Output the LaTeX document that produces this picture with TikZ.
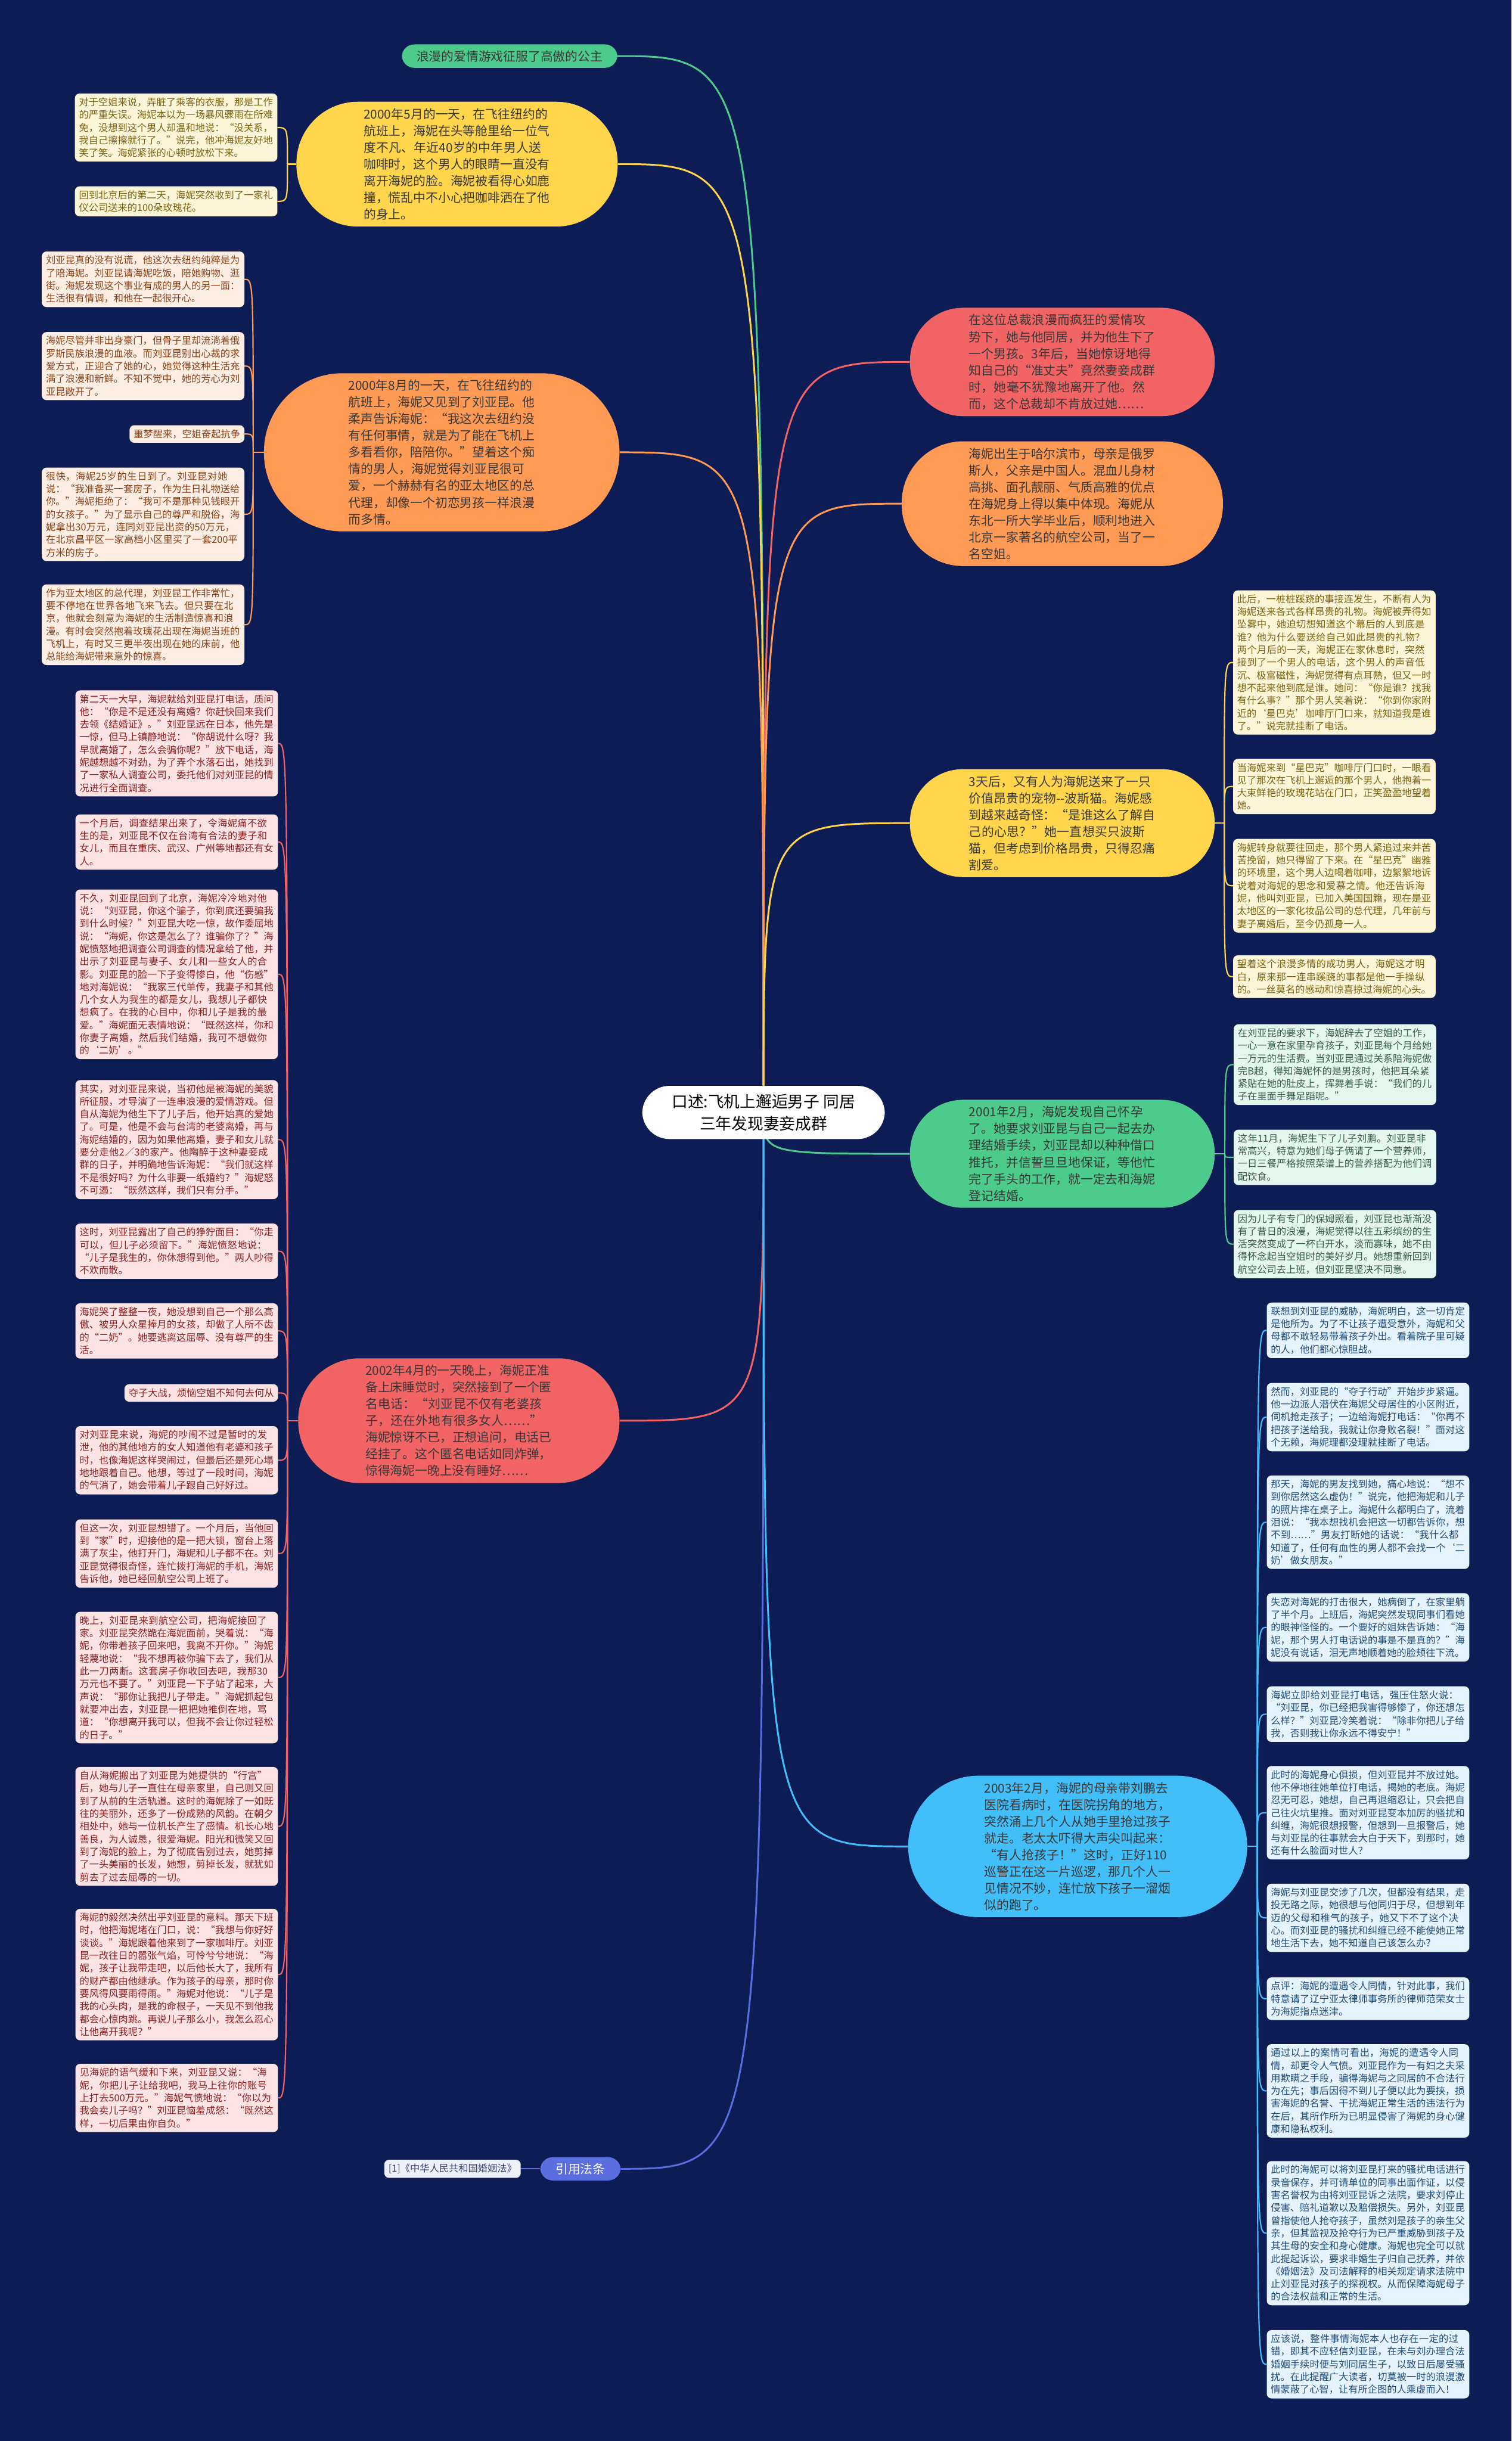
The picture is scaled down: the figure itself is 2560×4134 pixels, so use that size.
\documentclass[tikz,border=0pt]{standalone}
\usepackage{fontspec}
\setmainfont{Noto Sans CJK SC}
\XeTeXlinebreaklocale "zh"
\XeTeXlinebreakskip=0pt plus 1pt
\setlength{\parindent}{0pt}

\definecolor{bg}{HTML}{0E1C55}
\definecolor{cgrn}{HTML}{4DCB8C}
\definecolor{cyel}{HTML}{FFD54C}
\definecolor{corg}{HTML}{FF9A55}
\definecolor{cred}{HTML}{F26464}
\definecolor{cblu}{HTML}{42BEF8}
\definecolor{claw}{HTML}{5A6EDF}
\definecolor{fgrn}{HTML}{E5F6EE}
\definecolor{fyel}{HTML}{FDF5D8}
\definecolor{forg}{HTML}{FDEEE4}
\definecolor{fred}{HTML}{FDE4E4}
\definecolor{fblu}{HTML}{E4F3FC}
\definecolor{flaw}{HTML}{EEF0FB}
\definecolor{tgrn}{HTML}{365C4A}
\definecolor{tyel}{HTML}{7B6213}
\definecolor{torg}{HTML}{8A4016}
\definecolor{tred}{HTML}{8C2020}
\definecolor{tblu}{HTML}{1F4C78}
\definecolor{tlaw}{HTML}{3A3F6B}
\definecolor{tmain}{HTML}{383838}

\newcommand{\leaffont}{\fontsize{16.4pt}{21.5pt}\selectfont}
\newcommand{\topicfont}{\fontsize{21pt}{28.3pt}\selectfont}
\newcommand{\rootfont}{\fontsize{27pt}{37pt}\selectfont}

\pgfdeclarelayer{canvas}
\pgfdeclarelayer{back}
\pgfsetlayers{canvas,back,main}

\begin{document}
\begin{tikzpicture}[x=1pt,y=-1pt,
  topic/.style={rounded corners=#1,inner xsep=#1+10pt,inner ysep=11pt,text width=316pt,align=left,font=\topicfont,text=tmain},
  leaf/.style={rounded corners=8pt,inner sep=7pt,text width=329pt,align=left,font=\leaffont},
  tag/.style={rounded corners=8pt,inner sep=7pt,font=\leaffont},
  link/.style={line width=3pt},
  twig/.style={line width=2.2pt}]

  \begin{pgfonlayer}{canvas}
    \fill[bg] (0,0) rectangle (2560,4134);
  \end{pgfonlayer}

  \node[fill=white,rounded corners=46pt,font=\rootfont,align=center,inner xsep=50pt,inner ysep=14pt] (root) at (1293,1884) {口述:飞机上邂逅男子 同居\\三年发现妻妾成群};

  \node[fill=cgrn,rounded corners=21pt,font=\topicfont,text=tmain,inner xsep=25pt,inner ysep=10pt] (romance) at (863,95) {浪漫的爱情游戏征服了高傲的公主};

  \node[topic=104pt,fill=cyel] (may) at (774,278) {2000年5月的一天，在飞往纽约的航班上，海妮在头等舱里给一位气度不凡、年近40岁的中年男人送咖啡时，这个男人的眼睛一直没有离开海妮的脸。海妮被看得心如鹿撞，慌乱中不小心把咖啡洒在了他的身上。};
  \node[leaf,fill=fyel,text=tyel,anchor=east] (may1) at (470,216) {对于空姐来说，弄脏了乘客的衣服，那是工作的严重失误。海妮本以为一场暴风骤雨在所难免，没想到这个男人却温和地说：“没关系，我自己擦擦就行了。”说完，他冲海妮友好地笑了笑。海妮紧张的心顿时放松下来。};
  \node[leaf,fill=fyel,text=tyel,anchor=east] (may2) at (470,341) {回到北京后的第二天，海妮突然收到了一家礼仪公司送来的100朵玫瑰花。};

  \node[topic=133pt,fill=corg] (aug) at (748,766) {2000年8月的一天，在飞往纽约的航班上，海妮又见到了刘亚昆。他柔声告诉海妮：“我这次去纽约没有任何事情，就是为了能在飞机上多看看你，陪陪你。”望着这个痴情的男人，海妮觉得刘亚昆很可爱，一个赫赫有名的亚太地区的总代理，却像一个初恋男孩一样浪漫而多情。};
  \node[leaf,fill=forg,text=torg,anchor=east] (aug1) at (414,473) {刘亚昆真的没有说谎，他这次去纽约纯粹是为了陪海妮。刘亚昆请海妮吃饭，陪她购物、逛街。海妮发现这个事业有成的男人的另一面：生活很有情调，和他在一起很开心。};
  \node[leaf,fill=forg,text=torg,anchor=east] (aug2) at (414,620) {海妮尽管并非出身豪门，但骨子里却流淌着俄罗斯民族浪漫的血液。而刘亚昆别出心裁的求爱方式，正迎合了她的心，她觉得这种生活充满了浪漫和新鲜。不知不觉中，她的芳心为刘亚昆敞开了。};
  \node[tag,fill=forg,text=torg,anchor=east] (aug3) at (414,735) {噩梦醒来，空姐奋起抗争};
  \node[leaf,fill=forg,text=torg,anchor=east] (aug4) at (414,871) {很快，海妮25岁的生日到了。刘亚昆对她说：“我准备买一套房子，作为生日礼物送给你。”海妮拒绝了：“我可不是那种见钱眼开的女孩子。”为了显示自己的尊严和脱俗，海妮拿出30万元，连同刘亚昆出资的50万元，在北京昌平区一家高档小区里买了一套200平方米的房子。};
  \node[leaf,fill=forg,text=torg,anchor=east] (aug5) at (414,1058) {作为亚太地区的总代理，刘亚昆工作非常忙，要不停地在世界各地飞来飞去。但只要在北京，他就会刻意为海妮的生活制造惊喜和浪漫。有时会突然抱着玫瑰花出现在海妮当班的飞机上，有时又三更半夜出现在她的床前，他总能给海妮带来意外的惊喜。};

  \node[topic=104pt,fill=cred] (call) at (777,2406) {2002年4月的一天晚上，海妮正准备上床睡觉时，突然接到了一个匿名电话：“刘亚昆不仅有老婆孩子，还在外地有很多女人……”海妮惊讶不已，正想追问，电话已经挂了。这个匿名电话如同炸弹，惊得海妮一晚上没有睡好……};
  \node[leaf,fill=fred,text=tred,anchor=east] (call1) at (471,1259) {第二天一大早，海妮就给刘亚昆打电话，质问他：“你是不是还没有离婚？你赶快回来我们去领《结婚证》。”刘亚昆远在日本，他先是一惊，但马上镇静地说：“你胡说什么呀？我早就离婚了，怎么会骗你呢？”放下电话，海妮越想越不对劲，为了弄个水落石出，她找到了一家私人调查公司，委托他们对刘亚昆的情况进行全面调查。};
  \node[leaf,fill=fred,text=tred,anchor=east] (call2) at (471,1426) {一个月后，调查结果出来了，令海妮痛不欲生的是，刘亚昆不仅在台湾有合法的妻子和女儿，而且在重庆、武汉、广州等地都还有女人。};
  \node[leaf,fill=fred,text=tred,anchor=east] (call3) at (471,1650) {不久，刘亚昆回到了北京，海妮冷冷地对他说：“刘亚昆，你这个骗子，你到底还要骗我到什么时候？”刘亚昆大吃一惊，故作委屈地说：“海妮，你这是怎么了？谁骗你了？”海妮愤怒地把调查公司调查的情况拿给了他，并出示了刘亚昆与妻子、女儿和一些女人的合影。刘亚昆的脸一下子变得惨白，他“伤感”地对海妮说：“我家三代单传，我妻子和其他几个女人为我生的都是女儿，我想儿子都快想疯了。在我的心目中，你和儿子是我的最爱。”海妮面无表情地说：“既然这样，你和你妻子离婚，然后我们结婚，我可不想做你的‘二奶’。”};
  \node[leaf,fill=fred,text=tred,anchor=east] (call4) at (471,1930) {其实，对刘亚昆来说，当初他是被海妮的美貌所征服，才导演了一连串浪漫的爱情游戏。但自从海妮为他生下了儿子后，他开始真的爱她了。可是，他是不会与台湾的老婆离婚，再与海妮结婚的，因为如果他离婚，妻子和女儿就要分走他2／3的家产。他陶醉于这种妻妾成群的日子，并明确地告诉海妮：“我们就这样不是很好吗？为什么非要一纸婚约？”海妮怒不可遏：“既然这样，我们只有分手。”};
  \node[leaf,fill=fred,text=tred,anchor=east] (call5) at (471,2119) {这时，刘亚昆露出了自己的狰狞面目：“你走可以，但儿子必须留下。”海妮愤怒地说：“儿子是我生的，你休想得到他。”两人吵得不欢而散。};
  \node[leaf,fill=fred,text=tred,anchor=east] (call6) at (471,2254) {海妮哭了整整一夜，她没想到自己一个那么高傲、被男人众星捧月的女孩，却做了人所不齿的“二奶”。她要逃离这屈辱、没有尊严的生活。};
  \node[tag,fill=fred,text=tred,anchor=east] (call7) at (471,2359) {夺子大战，烦恼空姐不知何去何从};
  \node[leaf,fill=fred,text=tred,anchor=east] (call8) at (471,2473) {对刘亚昆来说，海妮的吵闹不过是暂时的发泄，他的其他地方的女人知道他有老婆和孩子时，也像海妮这样哭闹过，但最后还是死心塌地地跟着自己。他想，等过了一段时间，海妮的气消了，她会带着儿子跟自己好好过。};
  \node[leaf,fill=fred,text=tred,anchor=east] (call9) at (471,2631) {但这一次，刘亚昆想错了。一个月后，当他回到“家”时，迎接他的是一把大锁，窗台上落满了灰尘，他打开门，海妮和儿子都不在。刘亚昆觉得很奇怪，连忙拨打海妮的手机，海妮告诉他，她已经回航空公司上班了。};
  \node[leaf,fill=fred,text=tred,anchor=east] (call10) at (471,2841) {晚上，刘亚昆来到航空公司，把海妮接回了家。刘亚昆突然跪在海妮面前，哭着说：“海妮，你带着孩子回来吧，我离不开你。”海妮轻蔑地说：“我不想再被你骗下去了，我们从此一刀两断。这套房子你收回去吧，我那30万元也不要了。”刘亚昆一下子站了起来，大声说：“那你让我把儿子带走。”海妮抓起包就要冲出去，刘亚昆一把把她推倒在地，骂道：“你想离开我可以，但我不会让你过轻松的日子。”};
  \node[leaf,fill=fred,text=tred,anchor=east] (call11) at (471,3093) {自从海妮搬出了刘亚昆为她提供的“行宫”后，她与儿子一直住在母亲家里，自己则又回到了从前的生活轨道。这时的海妮除了一如既往的美丽外，还多了一份成熟的风韵。在朝夕相处中，她与一位机长产生了感情。机长心地善良，为人诚恳，很爱海妮。阳光和微笑又回到了海妮的脸上，为了彻底告别过去，她剪掉了一头美丽的长发，她想，剪掉长发，就犹如剪去了过去屈辱的一切。};
  \node[leaf,fill=fred,text=tred,anchor=east] (call12) at (471,3344) {海妮的毅然决然出乎刘亚昆的意料。那天下班时，他把海妮堵在门口，说：“我想与你好好谈谈。”海妮跟着他来到了一家咖啡厅。刘亚昆一改往日的嚣张气焰，可怜兮兮地说：“海妮，孩子让我带走吧，以后他长大了，我所有的财产都由他继承。作为孩子的母亲，那时你要风得风要雨得雨。”海妮对他说：“儿子是我的心头肉，是我的命根子，一天见不到他我都会心惊肉跳。再说儿子那么小，我怎么忍心让他离开我呢？”};
  \node[leaf,fill=fred,text=tred,anchor=east] (call13) at (471,3553) {见海妮的语气缓和下来，刘亚昆又说：“海妮，你把儿子让给我吧，我马上往你的账号上打去500万元。”海妮气愤地说：“你以为我会卖儿子吗？”刘亚昆恼羞成怒：“既然这样，一切后果由你自负。”};

  \node[fill=claw,rounded corners=21pt,text=white,font=\topicfont,inner xsep=26pt,inner ysep=10pt] (law) at (983,3673) {引用法条};
  \node[tag,fill=flaw,text=tlaw,anchor=east] (law1) at (882,3673) {[1]《中华人民共和国婚姻法》};

  \node[topic=90pt,fill=cred] (siege) at (1799,613) {在这位总裁浪漫而疯狂的爱情攻势下，她与他同居，并为他生下了一个男孩。3年后，当她惊讶地得知自己的“准丈夫”竟然妻妾成群时，她毫不犹豫地离开了他。然而，这个总裁却不肯放过她……};
  \node[topic=104pt,fill=corg] (born) at (1799,853) {海妮出生于哈尔滨市，母亲是俄罗斯人，父亲是中国人。混血儿身材高挑、面孔靓丽、气质高雅的优点在海妮身上得以集中体现。海妮从东北一所大学毕业后，顺利地进入北京一家著名的航空公司，当了一名空姐。};

  \node[topic=90pt,fill=cyel] (cat) at (1799,1394) {3天后，又有人为海妮送来了一只价值昂贵的宠物-{}-波斯猫。海妮感到越来越奇怪：“是谁这么了解自己的心思？”她一直想买只波斯猫，但考虑到价格昂贵，只得忍痛割爱。};
  \node[leaf,fill=fyel,text=tyel,anchor=west] (cat1) at (2088,1122) {此后，一桩桩蹊跷的事接连发生，不断有人为海妮送来各式各样昂贵的礼物。海妮被弄得如坠雾中，她迫切想知道这个幕后的人到底是谁？他为什么要送给自己如此昂贵的礼物？两个月后的一天，海妮正在家休息时，突然接到了一个男人的电话，这个男人的声音低沉、极富磁性，海妮觉得有点耳熟，但又一时想不起来他到底是谁。她问：“你是谁？找我有什么事？”那个男人笑着说：“你到你家附近的‘星巴克’咖啡厅门口来，就知道我是谁了。”说完就挂断了电话。};
  \node[leaf,fill=fyel,text=tyel,anchor=west] (cat2) at (2088,1332) {当海妮来到“星巴克”咖啡厅门口时，一眼看见了那次在飞机上邂逅的那个男人，他抱着一大束鲜艳的玫瑰花站在门口，正笑盈盈地望着她。};
  \node[leaf,fill=fyel,text=tyel,anchor=west] (cat3) at (2088,1500) {海妮转身就要往回走，那个男人紧追过来并苦苦挽留，她只得留了下来。在“星巴克”幽雅的环境里，这个男人边喝着咖啡，边絮絮地诉说着对海妮的思念和爱慕之情。他还告诉海妮，他叫刘亚昆，已加入美国国籍，现在是亚太地区的一家化妆品公司的总代理，几年前与妻子离婚后，至今仍孤身一人。};
  \node[leaf,fill=fyel,text=tyel,anchor=west] (cat4) at (2088,1654) {望着这个浪漫多情的成功男人，海妮这才明白，原来那一连串蹊跷的事都是他一手操纵的。一丝莫名的感动和惊喜掠过海妮的心头。};

  \node[topic=90pt,fill=cgrn] (preg) at (1799,1954) {2001年2月，海妮发现自己怀孕了。她要求刘亚昆与自己一起去办理结婚手续，刘亚昆却以种种借口推托，并信誓旦旦地保证，等他忙完了手头的工作，就一定去和海妮登记结婚。};
  \node[leaf,fill=fgrn,text=tgrn,anchor=west] (preg1) at (2089,1803) {在刘亚昆的要求下，海妮辞去了空姐的工作，一心一意在家里孕育孩子，刘亚昆每个月给她一万元的生活费。当刘亚昆通过关系陪海妮做完B超，得知海妮怀的是男孩时，他把耳朵紧紧贴在她的肚皮上，挥舞着手说：“我们的儿子在里面手舞足蹈呢。”};
  \node[leaf,fill=fgrn,text=tgrn,anchor=west] (preg2) at (2089,1960) {这年11月，海妮生下了儿子刘鹏。刘亚昆非常高兴，特意为她们母子俩请了一个营养师，一日三餐严格按照菜谱上的营养搭配为他们调配饮食。};
  \node[leaf,fill=fgrn,text=tgrn,anchor=west] (preg3) at (2089,2107) {因为儿子有专门的保姆照看，刘亚昆也渐渐没有了昔日的浪漫，海妮觉得以往五彩缤纷的生活突然变成了一杯白开水，淡而寡味，她不由得怀念起当空姐时的美好岁月。她想重新回到航空公司去上班，但刘亚昆坚决不同意。};

  \node[topic=119pt,fill=cblu] (grab) at (1825,3127) {2003年2月，海妮的母亲带刘鹏去医院看病时，在医院拐角的地方，突然涌上几个人从她手里抢过孩子就走。老太太吓得大声尖叫起来：“有人抢孩子！”这时，正好110巡警正在这一片巡逻，那几个人一见情况不妙，连忙放下孩子一溜烟似的跑了。};
  \node[leaf,fill=fblu,text=tblu,anchor=west] (grab1) at (2145,2253) {联想到刘亚昆的威胁，海妮明白，这一切肯定是他所为。为了不让孩子遭受意外，海妮和父母都不敢轻易带着孩子外出。看着院子里可疑的人，他们都心惊胆战。};
  \node[leaf,fill=fblu,text=tblu,anchor=west] (grab2) at (2145,2400) {然而，刘亚昆的“夺子行动”开始步步紧逼。他一边派人潜伏在海妮父母居住的小区附近，伺机抢走孩子；一边给海妮打电话：“你再不把孩子送给我，我就让你身败名裂！”面对这个无赖，海妮理都没理就挂断了电话。};
  \node[leaf,fill=fblu,text=tblu,anchor=west] (grab3) at (2145,2578) {那天，海妮的男友找到她，痛心地说：“想不到你居然这么虚伪！”说完，他把海妮和儿子的照片摔在桌子上。海妮什么都明白了，流着泪说：“我本想找机会把这一切都告诉你，想不到……”男友打断她的话说：“我什么都知道了，任何有血性的男人都不会找一个‘二奶’做女朋友。”};
  \node[leaf,fill=fblu,text=tblu,anchor=west] (grab4) at (2145,2756) {失恋对海妮的打击很大，她病倒了，在家里躺了半个月。上班后，海妮突然发现同事们看她的眼神怪怪的。一个要好的姐妹告诉她：“海妮，那个男人打电话说的事是不是真的？”海妮没有说话，泪无声地顺着她的脸颊往下流。};
  \node[leaf,fill=fblu,text=tblu,anchor=west] (grab5) at (2145,2903) {海妮立即给刘亚昆打电话，强压住怒火说：“刘亚昆，你已经把我害得够惨了，你还想怎么样？”刘亚昆冷笑着说：“除非你把儿子给我，否则我让你永远不得安宁！”};
  \node[leaf,fill=fblu,text=tblu,anchor=west] (grab6) at (2145,3070) {此时的海妮身心俱损，但刘亚昆并不放过她。他不停地往她单位打电话，揭她的老底。海妮忍无可忍，她想，自己再退缩忍让，只会把自己往火坑里推。面对刘亚昆变本加厉的骚扰和纠缠，海妮很想报警，但想到一旦报警后，她与刘亚昆的往事就会大白于天下，到那时，她还有什么脸面对世人？};
  \node[leaf,fill=fblu,text=tblu,anchor=west] (grab7) at (2145,3248) {海妮与刘亚昆交涉了几次，但都没有结果，走投无路之际，她很想与他同归于尽，但想到年迈的父母和稚气的孩子，她又下不了这个决心。而刘亚昆的骚扰和纠缠已经不能使她正常地生活下去，她不知道自己该怎么办？};
  \node[leaf,fill=fblu,text=tblu,anchor=west] (grab8) at (2145,3385) {点评：海妮的遭遇令人同情，针对此事，我们特意请了辽宁亚太律师事务所的律师范荣女士为海妮指点迷津。};
  \node[leaf,fill=fblu,text=tblu,anchor=west] (grab9) at (2145,3541) {通过以上的案情可看出，海妮的遭遇令人同情，却更令人气愤。刘亚昆作为一有妇之夫采用欺瞒之手段，骗得海妮与之同居的不合法行为在先；事后因得不到儿子便以此为要挟，损害海妮的名誉、干扰海妮正常生活的违法行为在后，其所作所为已明显侵害了海妮的身心健康和隐私权利。};
  \node[leaf,fill=fblu,text=tblu,anchor=west] (grab10) at (2145,3782) {此时的海妮可以将刘亚昆打来的骚扰电话进行录音保存，并可请单位的同事出面作证，以侵害名誉权为由将刘亚昆诉之法院，要求刘停止侵害、赔礼道歉以及赔偿损失。另外，刘亚昆曾指使他人抢夺孩子，虽然刘是孩子的亲生父亲，但其监视及抢夺行为已严重威胁到孩子及其生母的安全和身心健康。海妮也完全可以就此提起诉讼，要求非婚生子归自己抚养，并依《婚姻法》及司法解释的相关规定请求法院中止刘亚昆对孩子的探视权。从而保障海妮母子的合法权益和正常的生活。};
  \node[leaf,fill=fblu,text=tblu,anchor=west] (grab11) at (2145,4004) {应该说，整件事情海妮本人也存在一定的过错，即其不应轻信刘亚昆，在未与刘办理合法婚姻手续时便与刘同居生子，以致日后屡受骚扰。在此提醒广大读者，切莫被一时的浪漫激情蒙蔽了心智，让有所企图的人乘虚而入！};

  \begin{pgfonlayer}{back}
    \draw[link,cgrn] (root.center) .. controls (root.center |- romance.east) .. (romance.east);
    \draw[link,cyel] (root.center) .. controls (root.center |- may.east) .. (may.east);
    \draw[link,corg] (root.center) .. controls (root.center |- aug.east) .. (aug.east);
    \draw[link,cred] (root.center) .. controls (root.center |- call.east) .. (call.east);
    \draw[link,claw] (root.center) .. controls (root.center |- law.east) .. (law.east);
    \draw[link,cred] (root.center) .. controls (root.center |- siege.west) .. (siege.west);
    \draw[link,corg] (root.center) .. controls (root.center |- born.west) .. (born.west);
    \draw[link,cyel] (root.center) .. controls (root.center |- cat.west) .. (cat.west);
    \draw[link,cgrn] (root.center) .. controls (root.center |- preg.west) .. (preg.west);
    \draw[link,cblu] (root.center) .. controls (root.center |- grab.west) .. (grab.west);

    \draw[twig,cyel] (may.west) -- ++(-15,0) coordinate (mayj);
    \foreach \n in {may1,may2}
      \draw[twig,cyel] (mayj) .. controls (mayj |- \n.east) .. (\n.east);
    \draw[twig,corg] (aug.west) -- ++(-18,0) coordinate (augj);
    \foreach \n in {aug1,aug2,aug3,aug4,aug5}
      \draw[twig,corg] (augj) .. controls (augj |- \n.east) .. (\n.east);
    \draw[twig,cred] (call.west) -- ++(-18,0) coordinate (callj);
    \foreach \n in {call1,call2,call3,call4,call5,call6,call7,call8,call9,call10,call11,call12,call13}
      \draw[twig,cred] (callj) .. controls (callj |- \n.east) .. (\n.east);
    \draw[twig,claw] (law.west) -- (law1.east);
    \draw[twig,cyel] (cat.east) -- ++(16,0) coordinate (catj);
    \foreach \n in {cat1,cat2,cat3,cat4}
      \draw[twig,cyel] (catj) .. controls (catj |- \n.west) .. (\n.west);
    \draw[twig,cgrn] (preg.east) -- ++(17,0) coordinate (pregj);
    \foreach \n in {preg1,preg2,preg3}
      \draw[twig,cgrn] (pregj) .. controls (pregj |- \n.west) .. (\n.west);
    \draw[twig,cblu] (grab.east) -- ++(17,0) coordinate (grabj);
    \foreach \n in {grab1,grab2,grab3,grab4,grab5,grab6,grab7,grab8,grab9,grab10,grab11}
      \draw[twig,cblu] (grabj) .. controls (grabj |- \n.west) .. (\n.west);
  \end{pgfonlayer}
\end{tikzpicture}
\end{document}
